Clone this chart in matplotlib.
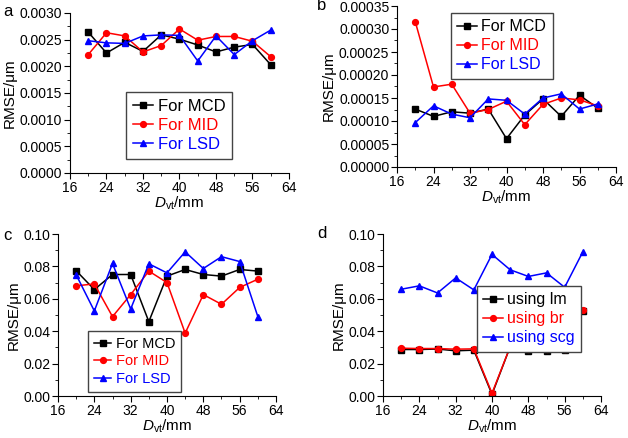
#!/usr/bin/env python3
# Four-panel RMSE vs D_vt figure, written to out.png

import matplotlib
matplotlib.use("Agg")
import matplotlib.pyplot as plt
from matplotlib.ticker import MultipleLocator, AutoMinorLocator

plt.rcParams["font.family"] = ["Liberation Sans", "DejaVu Sans"]
plt.rcParams["mathtext.fontset"] = "custom"
plt.rcParams["mathtext.rm"] = "Liberation Sans"
plt.rcParams["mathtext.it"] = "Liberation Sans:italic"

d_vt = [20, 24, 28, 32, 36, 40, 44, 48, 52, 56, 60]

a_mcd = [0.00264, 0.00225, 0.00245, 0.00228, 0.00259, 0.00251, 0.00240, 0.00227, 0.00236, 0.00241, 0.00203]
a_mid = [0.00222, 0.00263, 0.00257, 0.00227, 0.00239, 0.00270, 0.00249, 0.00256, 0.00256, 0.00247, 0.00218]
a_lsd = [0.00248, 0.00244, 0.00243, 0.00257, 0.00259, 0.00258, 0.00210, 0.00257, 0.00222, 0.00248, 0.00268]

b_mcd = [0.000126, 0.000110, 0.000120, 0.000117, 0.000126, 0.0000616, 0.000113, 0.000148, 0.000110, 0.000156, 0.000128]
b_mid = [0.000316, 0.000174, 0.000180, 0.000117, 0.000125, 0.000143, 0.000092, 0.000136, 0.000150, 0.000146, 0.000133]
b_lsd = [0.0000964, 0.000133, 0.000115, 0.000107, 0.000148, 0.000145, 0.000115, 0.000150, 0.000159, 0.000126, 0.000137]

c_mcd = [0.0773, 0.0657, 0.0750, 0.0750, 0.0459, 0.0740, 0.0781, 0.0750, 0.0740, 0.0781, 0.0771]
c_mid = [0.0680, 0.0692, 0.0490, 0.0626, 0.0771, 0.0700, 0.0388, 0.0626, 0.0566, 0.0670, 0.0721]
c_lsd = [0.0748, 0.0525, 0.0818, 0.0537, 0.0816, 0.0760, 0.0890, 0.0787, 0.0860, 0.0830, 0.0490]

d_lm = [0.0287, 0.0287, 0.0290, 0.0279, 0.0283, 0.0010, 0.0304, 0.0277, 0.0277, 0.0283, 0.0527]
d_br = [0.0295, 0.0293, 0.0293, 0.0289, 0.0291, 0.0017, 0.0304, 0.0289, 0.0289, 0.0291, 0.0529]
d_scg = [0.0659, 0.0680, 0.0636, 0.0729, 0.0655, 0.0874, 0.0779, 0.0738, 0.0760, 0.0671, 0.0890]

W, H = 628, 438
fig = plt.figure(figsize=(W / 100, H / 100), dpi=100)

STYLES = [("black", "s", 3.8), ("red", "o", 4.2), ("blue", "^", 4.2)]


def px_axes(left, top, right, bottom):
    return fig.add_axes([left / W, 1 - bottom / H, (right - left) / W, (bottom - top) / H])


def panel(ax, series, labels, ymax, ystep, yfmt, leg_xy, leg_size):
    for ys, lab, (col, mk, ms) in zip(series, labels, STYLES):
        ax.plot(d_vt, ys, color=col, marker=mk, markersize=ms, linewidth=1.1, label=lab)
    ax.set_xlim(16, 64)
    ax.set_ylim(0, ymax)
    ax.xaxis.set_major_locator(MultipleLocator(8))
    ax.xaxis.set_minor_locator(AutoMinorLocator(2))
    ax.yaxis.set_major_locator(MultipleLocator(ystep))
    ax.yaxis.set_minor_locator(AutoMinorLocator(2))
    ax.yaxis.set_major_formatter(matplotlib.ticker.FormatStrFormatter(yfmt))
    for s in ("top", "right"):
        ax.spines[s].set_visible(False)
    ax.tick_params(which="major", direction="out", length=4, labelsize=10, pad=1.5)
    ax.tick_params(which="minor", direction="out", length=2)
    ax.set_xlabel(r"$D_{\mathrm{vt}}$/mm", fontsize=11, labelpad=0)
    ax.set_ylabel("RMSE/\u03bcm", fontsize=11, labelpad=2)
    leg = ax.legend(loc="upper left", bbox_to_anchor=(leg_xy[0] / W, 1 - leg_xy[1] / H),
                    bbox_transform=fig.transFigure, borderaxespad=0, fancybox=False,
                    edgecolor="#444444", fontsize=leg_size, handlelength=1.2,
                    handletextpad=0.3, labelspacing=0.25, borderpad=0.4, framealpha=1)
    leg.get_frame().set_linewidth(1.0)
    for txt, (col, _, _) in zip(leg.get_texts(), STYLES):
        txt.set_color(col)
    return ax


ax_a = px_axes(70, 13, 289, 173)
panel(ax_a, [a_mcd, a_mid, a_lsd], ["For MCD", "For MID", "For LSD"],
      0.003, 0.0005, "%.4f", (126, 92), 12)
ax_b = px_axes(397, 6, 616, 167)
panel(ax_b, [b_mcd, b_mid, b_lsd], ["For MCD", "For MID", "For LSD"],
      0.00035, 0.00005, "%.5f", (451, 13), 11.5)
ax_c = px_axes(58, 234, 276, 396)
panel(ax_c, [c_mcd, c_mid, c_lsd], ["For MCD", "For MID", "For LSD"],
      0.10, 0.02, "%.2f", (88, 331), 10.5)
ax_d = px_axes(383, 234, 601, 396)
panel(ax_d, [d_lm, d_br, d_scg], ["using lm", "using br", "using scg"],
      0.10, 0.02, "%.2f", (477, 286), 11.5)

for letter, x, y in (("a", 3, 12), ("b", 317, 6), ("c", 3, 236), ("d", 317, 234)):
    fig.text(x / W, 1 - y / H, letter, fontsize=12, va="center", ha="left")

fig.savefig("out.png", dpi=100)
